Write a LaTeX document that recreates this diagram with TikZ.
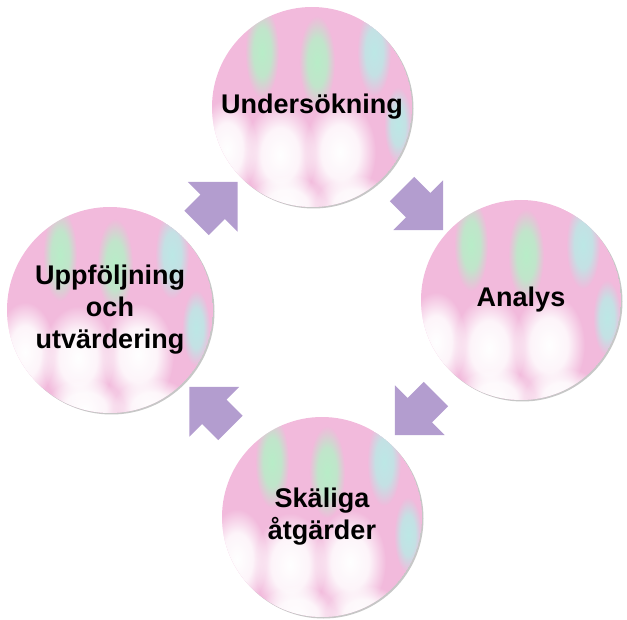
\documentclass[tikz,border=0pt]{standalone}
\usepackage{fontspec}
\setmainfont{Liberation Sans}
\usetikzlibrary{shapes.arrows,calc,backgrounds,fadings}
\definecolor{StepPink}{HTML}{F2BADC}
\definecolor{StepArrow}{HTML}{B39DCF}
\definecolor{BlobGreen}{HTML}{B8EDC8}
\definecolor{BlobCyan}{HTML}{BCE8E6}
\pgfdeclareradialshading{blobshade}{\pgfpointorigin}{color(0bp)=(white); color(13bp)=(white!85!black); color(25bp)=(black); color(50bp)=(black)}
\pgfdeclarefading{blobfade}{\pgfuseshading{blobshade}}

\newcommand{\stepblobs}{%
  \fill[BlobGreen, path fading=blobfade] (-50,-55) ellipse [x radius=17, y radius=46];
  \fill[BlobGreen, path fading=blobfade] (5,-45) ellipse [x radius=18, y radius=46];
  \fill[BlobCyan, path fading=blobfade] (62,-55) ellipse [x radius=17, y radius=44];
  \fill[BlobCyan, path fading=blobfade] (86,18) ellipse [x radius=14, y radius=38];
  \fill[white, path fading=blobfade] (-85,42) ellipse [x radius=30, y radius=50];
  \fill[white, path fading=blobfade] (-32,48) ellipse [x radius=36, y radius=52];
  \fill[white, path fading=blobfade] (28,45) ellipse [x radius=36, y radius=52];
  \fill[white, path fading=blobfade] (-25,98) ellipse [x radius=40, y radius=30];
  \fill[white, path fading=blobfade] (42,98) ellipse [x radius=40, y radius=30];
}

\begin{document}
\begin{tikzpicture}[
	x=1pt, y=-1pt,
	stepcircle/.style={circle, minimum size=200pt, inner sep=0pt, align=center,
		font=\bfseries\fontsize{27}{32}\selectfont},
	steparrow/.style={single arrow, fill=StepArrow, draw=none,
		inner xsep=0pt, inner ysep=17pt, minimum height=58pt,
		single arrow head extend=18pt, single arrow tip angle=90}
]
\useasboundingbox (0,0) rectangle (627,620);

\node[stepcircle] (under) at (312,107) {Undersökning};
\node[stepcircle] (analys) at (521,300) {Analys};
\node[stepcircle] (atgard) at (322,517) {Skäliga\\åtgärder};
\node[stepcircle, minimum size=206pt] (uppf) at (110,310) {Uppföljning\\och\\utvärdering};

\begin{scope}[on background layer]
\foreach \c/\r in {under/100, analys/100, atgard/100, uppf/103} {
	\fill[black!22] ($(\c)+(1.5,1.5)$) circle [radius=\r];
	\begin{scope}
		\clip (\c) circle [radius=\r];
		\fill[StepPink] (\c) circle [radius=\r];
		\begin{scope}[shift={(\c)}]
			\stepblobs
		\end{scope}
	\end{scope}
}
\end{scope}

\node[steparrow, rotate=45] (a1) at ($(uppf)!0.5!(under)$) {};
\node[steparrow, rotate=-45] (a2) at ($(under)!0.5!(analys)$) {};
\node[steparrow, rotate=-135] (a3) at ($(analys)!0.5!(atgard)$) {};
\node[steparrow, rotate=135] (a4) at ($(atgard)!0.5!(uppf)$) {};
\end{tikzpicture}
\end{document}
